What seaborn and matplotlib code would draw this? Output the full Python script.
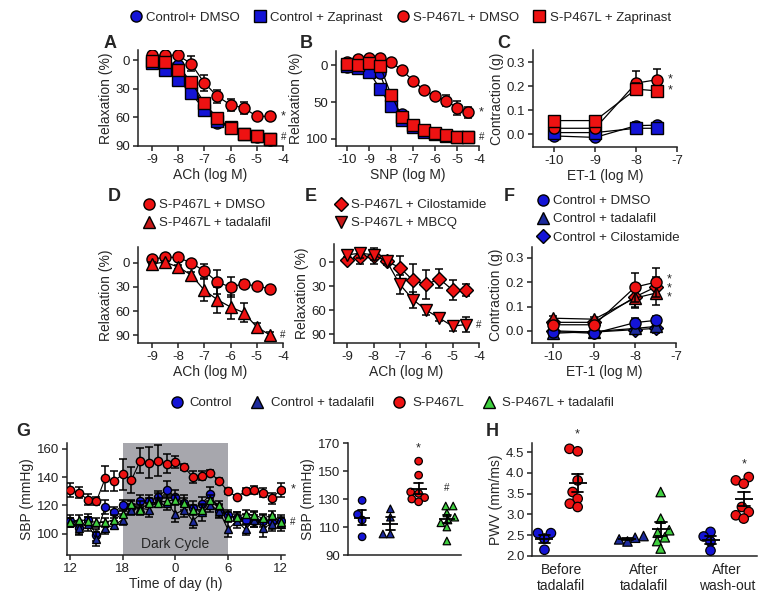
import numpy as np
import pandas as pd
import matplotlib
matplotlib.use("Agg")
import matplotlib.pyplot as plt
import seaborn as sns
from matplotlib.lines import Line2D

# ---------------- data ----------------
ach_x = [-9, -8.5, -8, -7.5, -7, -6.5, -6, -5.5, -5, -4.5]
snp_x = [-10, -9.5, -9, -8.5, -8, -7.5, -7, -6.5, -6, -5.5, -5, -4.5]
et1_x = [-10, -9, -8, -7.5]

# Panel A (ACh relaxation, %)
a_ctrl_dmso = [1, 1, 5, 24, 49, 66, 70, 77, 81, 84]
a_ctrl_zap = [3, 10, 21, 35, 52, 64, 70, 77, 80, 83]
a_sp_dmso = [-5, -5, -5, 4, 24, 38, 47, 50, 59, 59]
a_sp_zap = [1, 2, 10, 23, 45, 61, 71, 77, 80, 83]
a_ctrl_dmso_err = [2, 2, 2, 3, 3, 3, 3, 2, 2, 2]
a_ctrl_zap_err = [2, 2, 2, 3, 3, 3, 3, 2, 2, 2]
a_sp_dmso_err = [2, 2, 2, 8, 8, 7, 6, 6, 4, 4]
a_sp_zap_err = [2, 2, 3, 4, 4, 4, 3, 3, 3, 3]

# Panel B (SNP relaxation, %)
b_ctrl_dmso = [2, 3, 8, 11, 54, 66, 82, 89, 92, 95, 97, 98]
b_ctrl_zap = [1, 4, 9, 32, 56, 74, 84, 90, 93, 96, 97, 98]
b_sp_dmso = [-4, -8, -10, -10, -4, 7, 21, 34, 42, 48, 58, 64]
b_sp_zap = [-1, 0, -3, 1, 40, 70, 81, 88, 92, 95, 97, 98]
b_ctrl_dmso_err = [2, 2, 3, 3, 3, 3, 3, 2, 2, 2, 2, 2]
b_ctrl_zap_err = [2, 2, 5, 7, 4, 3, 3, 2, 2, 2, 2, 2]
b_sp_dmso_err = [2, 2, 2, 2, 2, 3, 3, 3, 3, 7, 9, 7]
b_sp_zap_err = [3, 3, 3, 3, 5, 5, 3, 3, 2, 2, 2, 2]

# Panel C (ET-1 contraction, g)
c_ctrl_dmso = [-0.008, -0.014, 0.035, 0.037]
c_ctrl_zap = [0.006, 0.006, 0.024, 0.024]
c_sp_dmso = [0.024, 0.024, 0.212, 0.226]
c_sp_zap = [0.056, 0.056, 0.187, 0.180]
c_ctrl_dmso_err = [0.008, 0.008, 0.015, 0.01]
c_ctrl_zap_err = [0.008, 0.008, 0.01, 0.01]
c_sp_dmso_err = [0.006, 0.006, 0.05, 0.045]
c_sp_zap_err = [0.01, 0.01, 0.025, 0.02]

# Panel D
d_sp_dmso = [-5, -7, -7, 0, 10, 24, 30, 26, 29, 32]
d_sp_tad = [1, -1, 5, 15, 34, 46, 55, 62, 80, 90]
d_sp_dmso_err = [2, 2, 2, 2, 9, 15, 12, 5, 3, 3]
d_sp_tad_err = [2, 2, 3, 4, 14, 16, 15, 12, 5, 4]

# Panel E
e_sp_cilo = [-2, -6, -8, -1, 7, 23, 28, 21, 35, 35]
e_sp_mbcq = [-9, -11, -9, -1, 28, 47, 60, 70, 80, 78]
e_sp_cilo_err = [3, 8, 10, 5, 15, 20, 18, 12, 12, 7]
e_sp_mbcq_err = [3, 6, 6, 3, 12, 10, 6, 3, 6, 9]

# Panel F
f_ctrl_dmso = [-0.003, -0.01, 0.034, 0.043]
f_ctrl_tad = [-0.01, -0.003, 0.01, 0.018]
f_ctrl_cilo = [0.0, -0.005, 0.005, 0.01]
f_sp_dmso = [0.025, 0.025, 0.18, 0.20]
f_sp_tad = [0.052, 0.048, 0.135, 0.155]
f_sp_cilo = [0.035, 0.035, 0.14, 0.18]
f_ctrl_err = [0.008, 0.008, 0.02, 0.02]
f_sp_dmso_err = [0.006, 0.006, 0.06, 0.06]
f_sp_tad_err = [0.01, 0.01, 0.04, 0.05]
f_sp_cilo_err = [0.01, 0.01, 0.04, 0.04]

# Panel G (telemetry SBP by hour of day, 12 -> 12 next day)
g_hours = list(range(12, 37))
g_hour_ticks = [12, 18, 24, 30, 36]
g_hour_labels = ["12", "18", "0", "6", "12"]
g_sp = [131, 129, 124, 123, 139, 137, 142, 138, 151.5, 150, 151.5, 149.5, 150.5,
        147, 140, 141, 143, 137, 130, 126, 130, 131, 129, 125, 131]
g_sp_err = [5, 4, 4, 3, 9, 7, 11, 9, 9, 11, 11, 7, 4, 2, 4, 3, 2, 2, 2, 1, 2, 3, 3, 4, 5]
g_ctrl = [109, 104, 110, 99, 119, 115, 120, 119, 123, 123, 126, 131, 126,
          122, 118, 121, 128, 116, 113, 111, 110, 109, 109, 108, 109]
g_ctrl_err = [4, 5, 4, 4, 5, 4, 4, 4, 4, 4, 4, 6, 5, 5, 5, 5, 5, 4, 4, 4, 4, 4, 4, 5, 4]
g_ctrl_tad = [108, 104, 107, 96, 104, 106, 110, 117, 118, 117, 124, 122, 114,
              117, 109, 115, 120, 116, 103, 109, 103, 110, 104, 107, 107]
g_ctrl_tad_err = [3, 4, 5, 5, 4, 3, 4, 4, 5, 5, 5, 5, 6, 5, 5, 6, 5, 5, 5, 5, 4, 5, 6, 5, 5]
g_sp_tad = [108, 110, 109, 108, 108, 110, 114, 121, 117, 122, 122, 123, 124,
            122, 117, 117, 124, 120, 112, 112, 114, 113, 111, 113, 108]
g_sp_tad_err = [3] * 25

# Panel G right (mean SBP per animal)
g2_groups = ["Control", "Control + tadalafil", "S-P467L", "S-P467L + tadalafil"]
g2_ctrl = [129, 119, 115, 103]
g2_ctrl_tad = [123, 117, 105, 105]
g2_sp = [157, 147, 135, 134, 131, 130, 128]
g2_sp_tad = [125, 125, 120, 117, 115, 113, 110, 100]

# Panel H (PWV)
h_phases = ["Before\ntadalafil", "After\ntadalafil", "After\nwash-out"]
h_strains = ["Control", "S-P467L"]
h_before_ctrl = [2.55, 2.55, 2.42, 2.15]
h_before_sp = [4.58, 4.52, 3.82, 3.54, 3.38, 3.26, 3.18]
h_after_ctrl = [2.48, 2.44, 2.40, 2.35]
h_after_sp = [3.54, 2.90, 2.62, 2.56, 2.45, 2.36, 2.18]
h_wash_ctrl = [2.58, 2.47, 2.35, 2.13]
h_wash_sp = [3.90, 3.82, 3.74, 3.18, 3.06, 2.98, 2.90]

# ---------------- style ----------------
sns.set_theme(style="ticks")
plt.rcParams["font.family"] = ["Liberation Sans", "DejaVu Sans"]
plt.rcParams.update({
    "axes.linewidth": 1.1, "axes.edgecolor": "#222222",
    "xtick.major.width": 1.1, "ytick.major.width": 1.1,
    "xtick.major.size": 3.5, "ytick.major.size": 3.5,
    "xtick.labelsize": 9.5, "ytick.labelsize": 9.5,
    "axes.labelsize": 10, "xtick.major.pad": 2, "ytick.major.pad": 2,
    "axes.labelpad": 2, "axes.unicode_minus": False,
    "xtick.color": "#222222", "ytick.color": "#222222",
})

RED = "#ee1212"
BLUE = "#1414d6"
DBLUE = "#1c2a9c"
GREEN = "#3fcf3f"
GRAY = "#a7a7ad"
TRED = "#c81818"

W, H = 780, 609
fig = plt.figure(figsize=(W / 100, H / 100), dpi=100)


def add_ax(l, t, r, b):
    ax = fig.add_axes([l / W, 1 - b / H, (r - l) / W, (b - t) / H])
    sns.despine(ax=ax)
    return ax


def series(ax, x, y, err, marker, face, ms=8, lw=0.9, z=3):
    ax.errorbar(x, y, yerr=err, fmt="none", ecolor="black", elinewidth=1.1,
                capsize=3, capthick=1.1, zorder=z)
    sns.lineplot(x=x, y=y, ax=ax, color="black", lw=lw, marker=marker,
                 markerfacecolor=face, markeredgecolor="black",
                 markeredgewidth=1.0, markersize=ms, zorder=z + 0.5,
                 errorbar=None, legend=False)


def mark(ax, x, y, s, dx=7, dy=0, size=9):
    ax.annotate(s, (x, y), xytext=(dx, dy), textcoords="offset points",
                ha="left", va="center", fontsize=size, annotation_clip=False)


def panel_label(x, y, s):
    fig.text(x / W, 1 - y / H, s, fontsize=13, fontweight="bold",
             ha="left", va="center")


# ---------------- A ----------------
axA = add_ax(138, 50, 283, 146)
series(axA, ach_x, a_ctrl_dmso, a_ctrl_dmso_err, "o", BLUE, z=3)
series(axA, ach_x, a_ctrl_zap, a_ctrl_zap_err, "s", BLUE, z=4)
series(axA, ach_x, a_sp_dmso, a_sp_dmso_err, "o", RED, z=5)
series(axA, ach_x, a_sp_zap, a_sp_zap_err, "s", RED, z=6)
axA.set_xlim(-9.53, -4)
axA.set_ylim(90, -10.5)
axA.set_xticks([-9, -8, -7, -6, -5, -4])
axA.set_yticks([0, 30, 60, 90])
axA.set_xlabel("ACh (log M)")
axA.set_ylabel("Relaxation (%)")
mark(axA, -4.5, a_sp_dmso[-1], "*", dx=8)
mark(axA, -4.5, a_sp_zap[-1], "#", dx=8, dy=2, size=7)

# ---------------- B ----------------
axB = add_ax(336, 51, 479, 146)
series(axB, snp_x, b_ctrl_dmso, b_ctrl_dmso_err, "o", BLUE, z=3)
series(axB, snp_x, b_ctrl_zap, b_ctrl_zap_err, "s", BLUE, z=4)
series(axB, snp_x, b_sp_dmso, b_sp_dmso_err, "o", RED, z=5)
series(axB, snp_x, b_sp_zap, b_sp_zap_err, "s", RED, z=6)
axB.set_xlim(-10.5, -4)
axB.set_ylim(109.5, -19)
axB.set_xticks([-10, -9, -8, -7, -6, -5, -4])
axB.set_yticks([0, 50, 100])
axB.set_xlabel("SNP (log M)")
axB.set_ylabel("Relaxation (%)")
mark(axB, -4.5, b_sp_dmso[-1], "*", dx=8)
mark(axB, -4.5, b_sp_zap[-1], "#", dx=8, size=7)

# ---------------- C ----------------
axC = add_ax(533, 50, 677, 147)
series(axC, et1_x, c_ctrl_dmso, c_ctrl_dmso_err, "o", BLUE, z=3)
series(axC, et1_x, c_ctrl_zap, c_ctrl_zap_err, "s", BLUE, z=4)
series(axC, et1_x, c_sp_dmso, c_sp_dmso_err, "o", RED, z=5)
series(axC, et1_x, c_sp_zap, c_sp_zap_err, "s", RED, z=6)
axC.set_xlim(-10.52, -7)
axC.set_ylim(-0.054, 0.35)
axC.set_xticks([-10, -9, -8, -7])
axC.set_yticks([0.0, 0.1, 0.2, 0.3])
axC.set_yticklabels(["0.0", "0.1", "0.2", "0.3"])
axC.set_xlabel("ET-1 (log M)")
axC.set_ylabel("Contraction (g)")
mark(axC, -7.5, c_sp_dmso[-1], "*", dx=8, size=9)
mark(axC, -7.5, c_sp_zap[-1], "*", dx=8, size=9)

# ---------------- D ----------------
axD = add_ax(138, 247, 283, 343)
series(axD, ach_x, d_sp_dmso, d_sp_dmso_err, "o", RED, z=3)
series(axD, ach_x, d_sp_tad, d_sp_tad_err, "^", RED, z=4)
axD.set_xlim(-9.53, -4)
axD.set_ylim(100, -20)
axD.set_xticks([-9, -8, -7, -6, -5, -4])
axD.set_yticks([0, 30, 60, 90])
axD.set_xlabel("ACh (log M)")
axD.set_ylabel("Relaxation (%)")
mark(axD, -4.5, d_sp_tad[-1], "#", dx=7, size=7)

# ---------------- E ----------------
axE = add_ax(334, 244, 479, 343)
series(axE, ach_x, e_sp_cilo, e_sp_cilo_err, "D", RED, ms=7, z=3)
series(axE, ach_x, e_sp_mbcq, e_sp_mbcq_err, "v", RED, z=4)
axE.set_xlim(-9.5, -4)
axE.set_ylim(101, -22.5)
axE.set_xticks([-9, -8, -7, -6, -5, -4])
axE.set_yticks([0, 30, 60, 90])
axE.set_xlabel("ACh (log M)")
axE.set_ylabel("Relaxation (%)")
mark(axE, -4.5, e_sp_mbcq[-1], "#", dx=7, size=7)

# ---------------- F ----------------
axF = add_ax(532, 247, 676, 343)
series(axF, et1_x, f_ctrl_cilo, f_ctrl_err, "D", BLUE, ms=7, z=3)
series(axF, et1_x, f_ctrl_tad, f_ctrl_err, "^", DBLUE, z=4)
series(axF, et1_x, f_ctrl_dmso, f_ctrl_err, "o", BLUE, z=5)
series(axF, et1_x, f_sp_cilo, f_sp_cilo_err, "D", RED, ms=7, z=6)
series(axF, et1_x, f_sp_tad, f_sp_tad_err, "^", TRED, z=7)
series(axF, et1_x, f_sp_dmso, f_sp_dmso_err, "o", RED, z=8)
axF.set_xlim(-10.52, -7)
axF.set_ylim(-0.05, 0.345)
axF.set_xticks([-10, -9, -8, -7])
axF.set_yticks([0.0, 0.1, 0.2, 0.3])
axF.set_yticklabels(["0.0", "0.1", "0.2", "0.3"])
axF.set_xlabel("ET-1 (log M)")
axF.set_ylabel("Contraction (g)")
axF.annotate("*\n*\n*", (-7.5, 0.175), xytext=(8, 0), textcoords="offset points",
             ha="left", va="center", fontsize=9, linespacing=0.7,
             annotation_clip=False)

# ---------------- G (time course) ----------------
axG = add_ax(67, 443, 285, 555)
axG.axvspan(18, 30, color=GRAY, zorder=0, lw=0)
series(axG, g_hours, g_sp, g_sp_err, "o", RED, ms=6, lw=0.8, z=3)
series(axG, g_hours, g_ctrl, g_ctrl_err, "o", BLUE, ms=5.8, lw=0.8, z=4)
series(axG, g_hours, g_ctrl_tad, g_ctrl_tad_err, "^", DBLUE, ms=5.5, lw=0.8, z=5)
series(axG, g_hours, g_sp_tad, g_sp_tad_err, "^", GREEN, ms=5.5, lw=0.8, z=6)
axG.set_xlim(11.65, 36.5)
axG.set_ylim(85, 164)
axG.set_xticks(g_hour_ticks)
axG.set_xticklabels(g_hour_labels)
axG.set_yticks([100, 120, 140, 160])
axG.set_xlabel("Time of day (h)")
axG.set_ylabel("SBP (mmHg)")
axG.text(24, 93, "Dark Cycle", ha="center", va="center", fontsize=10, zorder=7)
mark(axG, 36, g_sp[-1], "*", dx=7, size=9)
mark(axG, 36, g_sp_tad[-1], "#", dx=7, size=7)

# ---------------- G (dot plot) ----------------
axG2 = add_ax(348, 443, 461, 555)
g2_df = pd.DataFrame({
    "group": ([g2_groups[0]] * len(g2_ctrl) + [g2_groups[1]] * len(g2_ctrl_tad)
              + [g2_groups[2]] * len(g2_sp) + [g2_groups[3]] * len(g2_sp_tad)),
    "sbp": g2_ctrl + g2_ctrl_tad + g2_sp + g2_sp_tad,
})
g2_pal = {g2_groups[0]: BLUE, g2_groups[1]: DBLUE, g2_groups[2]: RED, g2_groups[3]: GREEN}
circ = g2_df[g2_df.group.isin([g2_groups[0], g2_groups[2]])]
tri = g2_df[g2_df.group.isin([g2_groups[1], g2_groups[3]])]
sns.swarmplot(data=circ, x="group", y="sbp", hue="group", order=g2_groups,
              palette=g2_pal, marker="o", size=4.2, edgecolor="black",
              linewidth=0.9, legend=False, ax=axG2, zorder=3)
sns.swarmplot(data=tri, x="group", y="sbp", hue="group", order=g2_groups,
              palette=g2_pal, marker="^", size=4.2, edgecolor="black",
              linewidth=0.9, legend=False, ax=axG2, zorder=3)
sns.pointplot(data=g2_df, x="group", y="sbp", order=g2_groups, color="black",
              errorbar="se", markers="_", linestyles="none", capsize=0.3,
              markersize=12, markeredgewidth=1.3, err_kws={"linewidth": 1.3},
              ax=axG2, zorder=5)
axG2.set_xlim(-0.5, 3.5)
axG2.set_ylim(90, 170)
axG2.set_yticks([90, 110, 130, 150, 170])
axG2.set_xticks([])
axG2.set_xlabel("")
axG2.set_ylabel("SBP (mmHg)")
axG2.text(2, 166, "*", ha="center", va="center", fontsize=9)
axG2.text(3, 138, "#", ha="center", va="center", fontsize=7)

# ---------------- H ----------------
axH = add_ax(532, 443, 757, 556)
rows = []
for ph, cvals, svals in [(h_phases[0], h_before_ctrl, h_before_sp),
                         (h_phases[1], h_after_ctrl, h_after_sp),
                         (h_phases[2], h_wash_ctrl, h_wash_sp)]:
    rows += [(ph, "Control", v) for v in cvals]
    rows += [(ph, "S-P467L", v) for v in svals]
h_df = pd.DataFrame(rows, columns=["phase", "strain", "pwv"])
h_circ = h_df[h_df.phase != h_phases[1]]
h_tri = h_df[h_df.phase == h_phases[1]]
sns.swarmplot(data=h_circ, x="phase", y="pwv", hue="strain", order=h_phases,
              hue_order=h_strains, palette={"Control": BLUE, "S-P467L": RED},
              dodge=True, marker="o", size=5.0, edgecolor="black", linewidth=0.9,
              legend=False, ax=axH, zorder=3)
sns.swarmplot(data=h_tri, x="phase", y="pwv", hue="strain", order=h_phases,
              hue_order=h_strains, palette={"Control": DBLUE, "S-P467L": GREEN},
              dodge=True, marker="^", size=5.0, edgecolor="black", linewidth=0.9,
              legend=False, ax=axH, zorder=3)
sns.pointplot(data=h_df, x="phase", y="pwv", hue="strain", order=h_phases,
              hue_order=h_strains, palette={"Control": "black", "S-P467L": "black"},
              dodge=0.4, errorbar="se", markers="_", linestyles="none",
              capsize=0.14, markersize=13, markeredgewidth=1.3,
              err_kws={"linewidth": 1.3}, legend=False, ax=axH, zorder=5)
axH.set_xlim(-0.35, 2.36)
axH.set_ylim(2.0, 4.72)
axH.set_yticks([2.0, 2.5, 3.0, 3.5, 4.0, 4.5])
axH.set_yticklabels(["2.0", "2.5", "3.0", "3.5", "4.0", "4.5"])
axH.tick_params(axis="x", length=0, labelsize=10, pad=5)
axH.set_xlabel("")
axH.set_ylabel("PWV (mm/ms)")
axH.text(0.2, 4.92, "*", ha="center", va="center", fontsize=9, clip_on=False)
axH.text(2.2, 4.2, "*", ha="center", va="center", fontsize=9)

# ---------------- legends ----------------
def h(marker, face, ms=8):
    return Line2D([], [], ls="none", marker=marker, markerfacecolor=face,
                  markeredgecolor="black", markeredgewidth=1.0, markersize=ms)


fig.legend([h("o", BLUE), h("s", BLUE), h("o", RED), h("s", RED)],
           ["Control+ DMSO", "Control + Zaprinast", "S-P467L + DMSO", "S-P467L + Zaprinast"],
           loc="center", bbox_to_anchor=(400 / W, 1 - 18 / H), ncol=4,
           frameon=False, handletextpad=0.3, columnspacing=1.0, handlelength=1.0,
           fontsize=9.5, borderpad=0, borderaxespad=0)

leg_kw = dict(loc="upper left", frameon=False, handletextpad=0.3, handlelength=1.0,
              labelspacing=0.45, fontsize=9.5, borderpad=0, borderaxespad=0)
fig.legend([h("o", RED), h("^", TRED)], ["S-P467L + DMSO", "S-P467L + tadalafil"],
           bbox_to_anchor=(142 / W, 1 - 199 / H), **leg_kw)
fig.legend([h("D", RED, 7), h("v", TRED)], ["S-P467L + Cilostamide", "S-P467L + MBCQ"],
           bbox_to_anchor=(334 / W, 1 - 199 / H), **leg_kw)
fig.legend([h("o", BLUE), h("^", DBLUE), h("D", BLUE, 7)],
           ["Control + DMSO", "Control + tadalafil", "Control + Cilostamide"],
           bbox_to_anchor=(536 / W, 1 - 195 / H), **leg_kw)

fig.legend([h("o", BLUE), h("^", DBLUE), h("o", RED), h("^", GREEN)],
           ["Control", "Control + tadalafil", "S-P467L", "S-P467L + tadalafil"],
           loc="center", bbox_to_anchor=(392 / W, 1 - 403 / H), ncol=4,
           frameon=False, handletextpad=0.5, columnspacing=1.4, handlelength=1.0,
           fontsize=9.5, borderpad=0, borderaxespad=0)

# ---------------- panel letters ----------------
panel_label(104, 43, "A")
panel_label(300, 43, "B")
panel_label(497, 43, "C")
panel_label(108, 196, "D")
panel_label(305, 196, "E")
panel_label(504, 197, "F")
panel_label(16, 432, "G")
panel_label(486, 432, "H")

# Let seaborn lay out the swarms with compact marker footprints, then show
# the markers at full size (overlapping slightly, as in the reference).
fig.canvas.draw()
for ax, full in ((axG2, 5.4), (axH, 6.8)):
    for coll in ax.collections:
        if "draw" in coll.__dict__:
            del coll.draw
        coll.set_sizes([full ** 2])

fig.savefig("out.png", dpi=100)
